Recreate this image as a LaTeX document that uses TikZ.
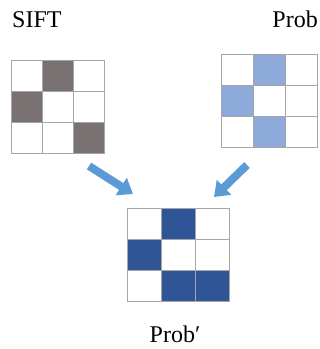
\documentclass[tikz,border=0pt]{standalone}
\usepackage{fontspec}
\setmainfont{Liberation Serif}
\usetikzlibrary{arrows.meta,calc}
\definecolor{siftgray}{HTML}{7A7272}
\definecolor{problight}{HTML}{8EAADB}
\definecolor{probdark}{HTML}{2F5597}
\definecolor{gridline}{HTML}{A6A6A6}
\definecolor{flowblue}{HTML}{5B9BD5}
\tikzset{
  cell/.style={draw=gridline, line width=0.9pt},
  label/.style={font=\fontsize{24}{24}\selectfont, inner sep=0pt, anchor=base},
  flow/.style={draw=flowblue, line width=8pt,
    -{Triangle[width=20pt,length=14pt]}},
  gridbox/.style={inner sep=0pt, draw=none}
}
% 3x3 grid: #1 = origin (top-left), #2 = cell width, #3 = cell height,
% #4 = fill colour, #5 = list of filled cells as row/col
\newcommand{\cellgrid}[5]{%
  \foreach \r/\c in {#5}{
    \fill[#4] ($(#1)+(\c*#2,\r*#3)$) rectangle ++(#2,#3);
  }
  \foreach \r in {0,1,2}{
    \foreach \c in {0,1,2}{
      \draw[cell] ($(#1)+(\c*#2,\r*#3)$) rectangle ++(#2,#3);
    }
  }
}
\begin{document}
\begin{tikzpicture}[x=1pt,y=-1pt]
\useasboundingbox (0,0) rectangle (320,349);

% grid origins
\coordinate (siftO) at (11,60);
\coordinate (probO) at (221,54);
\coordinate (outO) at (127,208);

\cellgrid{siftO}{31.3}{31}{siftgray}{0/1,1/0,2/2}
\cellgrid{probO}{32}{31.3}{problight}{0/1,1/0,2/1}
\cellgrid{outO}{34}{31}{probdark}{0/1,1/0,2/1,2/2}

% invisible frames around each grid
\node[gridbox, minimum width=94pt, minimum height=93pt, anchor=north west] (sift) at (siftO) {};
\node[gridbox, minimum width=96pt, minimum height=94pt, anchor=north west] (prob) at (probO) {};
\node[gridbox, minimum width=102pt, minimum height=93pt, anchor=north west] (out) at (outO) {};

% titles
\node[label, anchor=base west] (siftlabel) at (12,27) {SIFT};
\node[label, anchor=base east] (problabel) at (318,27) {Prob};
\node[label] (outlabel) at (175,342) {Prob\symbol{"2032}};

% flow arrows
\coordinate (a1s) at (89,166);
\coordinate (a1e) at (133,194);
\coordinate (a2s) at (247,165);
\coordinate (a2e) at (214,197);
\draw[flow] (a1s) -- (a1e);
\draw[flow] (a2s) -- (a2e);
\end{tikzpicture}
\end{document}
